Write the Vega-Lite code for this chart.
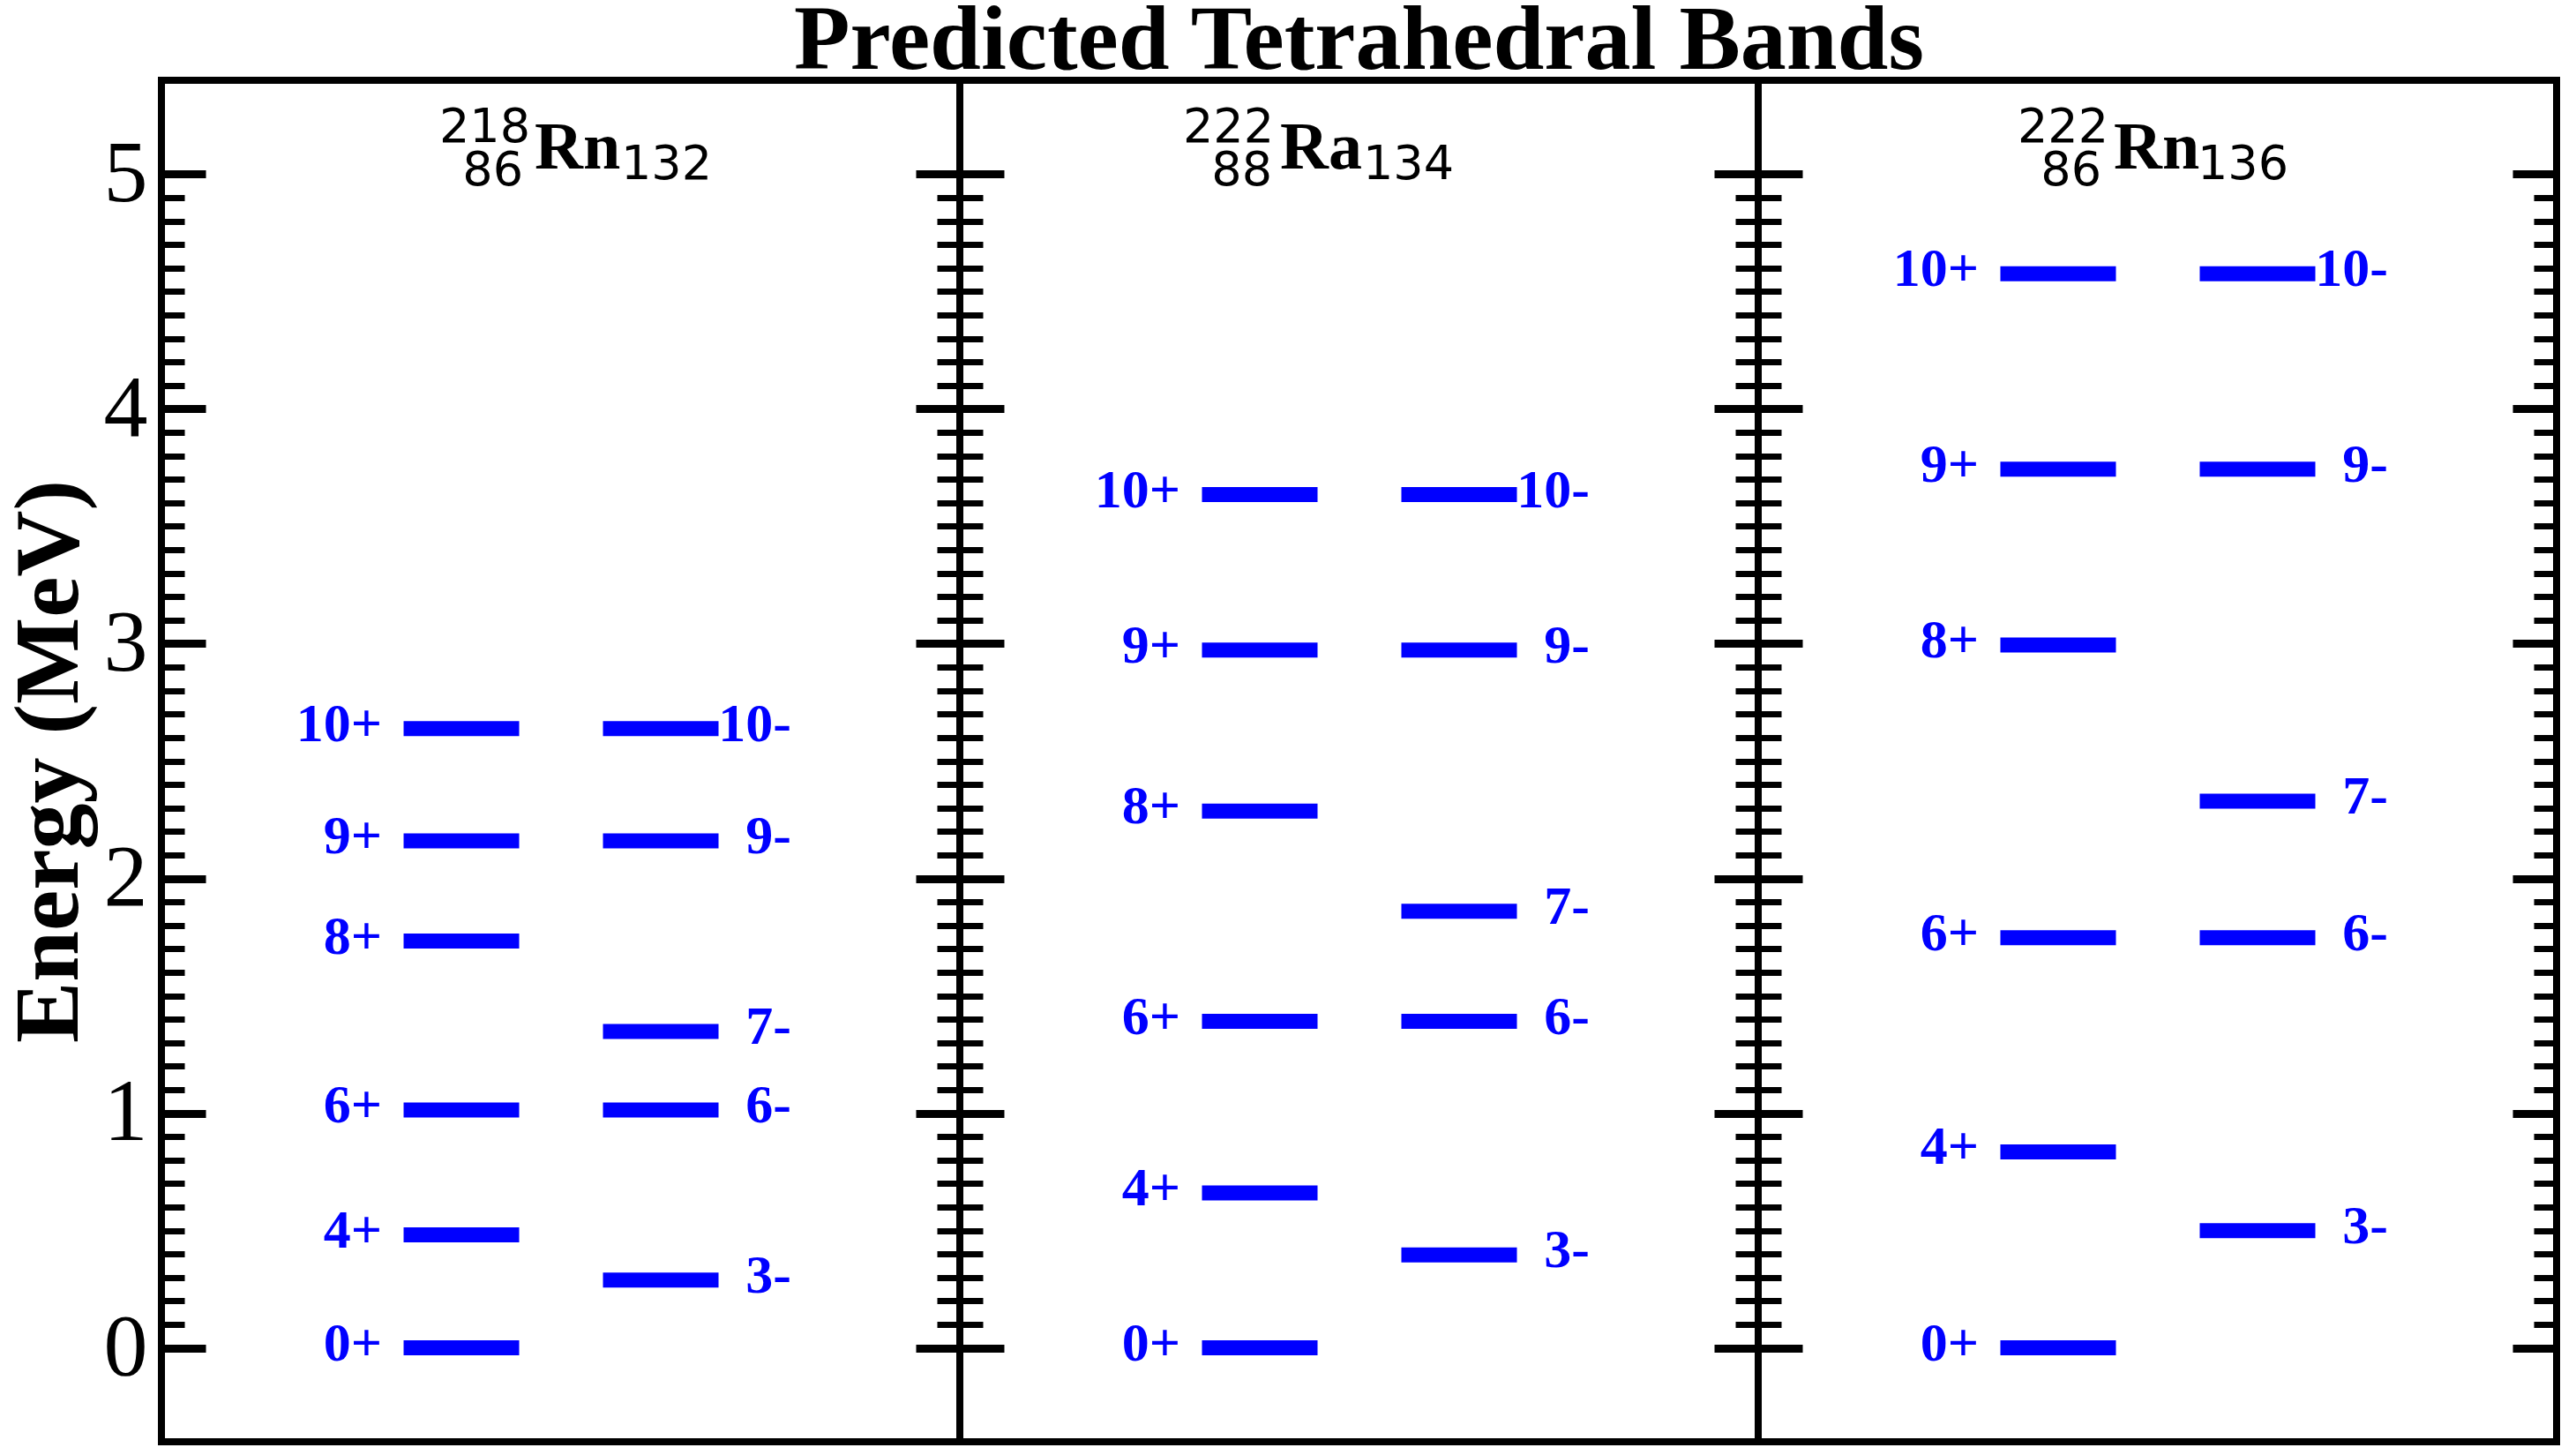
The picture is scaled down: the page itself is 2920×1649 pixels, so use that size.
{
  "$schema": "https://vega.github.io/schema/vega-lite/v6.json",
  "background": "white",
  "padding": {"left": 0, "top": -9, "right": 10, "bottom": 10},
  "spacing": 0,
  "bounds": "flush",
  "datasets": {
    "levels": [
      {"nuc": "218Rn", "parity": "+", "label": "0+", "E": 0},
      {"nuc": "218Rn", "parity": "+", "label": "4+", "E": 0.481},
      {"nuc": "218Rn", "parity": "+", "label": "6+", "E": 1.013},
      {"nuc": "218Rn", "parity": "+", "label": "8+", "E": 1.733},
      {"nuc": "218Rn", "parity": "+", "label": "9+", "E": 2.160},
      {"nuc": "218Rn", "parity": "+", "label": "10+", "E": 2.638},
      {"nuc": "218Rn", "parity": "-", "label": "3-", "E": 0.289},
      {"nuc": "218Rn", "parity": "-", "label": "6-", "E": 1.013},
      {"nuc": "218Rn", "parity": "-", "label": "7-", "E": 1.348},
      {"nuc": "218Rn", "parity": "-", "label": "9-", "E": 2.160},
      {"nuc": "218Rn", "parity": "-", "label": "10-", "E": 2.638},
      {"nuc": "222Ra", "parity": "+", "label": "0+", "E": 0},
      {"nuc": "222Ra", "parity": "+", "label": "4+", "E": 0.660},
      {"nuc": "222Ra", "parity": "+", "label": "6+", "E": 1.391},
      {"nuc": "222Ra", "parity": "+", "label": "8+", "E": 2.287},
      {"nuc": "222Ra", "parity": "+", "label": "9+", "E": 2.973},
      {"nuc": "222Ra", "parity": "+", "label": "10+", "E": 3.635},
      {"nuc": "222Ra", "parity": "-", "label": "3-", "E": 0.396},
      {"nuc": "222Ra", "parity": "-", "label": "6-", "E": 1.391},
      {"nuc": "222Ra", "parity": "-", "label": "7-", "E": 1.860},
      {"nuc": "222Ra", "parity": "-", "label": "9-", "E": 2.973},
      {"nuc": "222Ra", "parity": "-", "label": "10-", "E": 3.635},
      {"nuc": "222Rn", "parity": "+", "label": "0+", "E": 0},
      {"nuc": "222Rn", "parity": "+", "label": "4+", "E": 0.835},
      {"nuc": "222Rn", "parity": "+", "label": "6+", "E": 1.747},
      {"nuc": "222Rn", "parity": "+", "label": "8+", "E": 2.994},
      {"nuc": "222Rn", "parity": "+", "label": "9+", "E": 3.743},
      {"nuc": "222Rn", "parity": "+", "label": "10+", "E": 4.576},
      {"nuc": "222Rn", "parity": "-", "label": "3-", "E": 0.499},
      {"nuc": "222Rn", "parity": "-", "label": "6-", "E": 1.747},
      {"nuc": "222Rn", "parity": "-", "label": "7-", "E": 2.329},
      {"nuc": "222Rn", "parity": "-", "label": "9-", "E": 3.743},
      {"nuc": "222Rn", "parity": "-", "label": "10-", "E": 4.576}
    ],
    "nuclei": [
      {"nuc": "218Rn", "A": "218", "Z": "86", "sym": "Rn", "N": "132"},
      {"nuc": "222Ra", "A": "222", "Z": "88", "sym": "Ra", "N": "134"},
      {"nuc": "222Rn", "A": "222", "Z": "86", "sym": "Rn", "N": "136"}
    ]
  },
  "hconcat": [
    {
      "width": 905, "height": 1543,
      "resolve": {"axis": {"y": "independent"}},
      "layer": [
        {
          "data": {"name": "levels"},
          "transform": [{"filter": "datum.nuc === '218Rn'"}],
          "mark": {"type": "tick", "color": "#0000ff", "opacity": 1, "size": 131, "thickness": 17},
          "encoding": {
            "x": {"field": "parity", "type": "nominal", "scale": {"type": "point", "domain": ["+", "-"], "range": [340, 566], "padding": 0}, "axis": null},
            "y": {"field": "E", "type": "quantitative", "scale": {"domain": [-0.4, 5.4], "nice": false, "zero": false},
                  "axis": {"orient": "left", "values": [0, 1, 2, 3, 4, 5], "tickSize": -50, "tickWidth": 9, "tickColor": "black", "labels": false, "domain": false, "grid": false, "title": null}}
          }
        },
        {
          "data": {"name": "levels"},
          "transform": [{"filter": "datum.nuc === '218Rn' && datum.parity === '+'"}],
          "mark": {"type": "text", "font": "Liberation Serif", "fontWeight": "bold", "fontSize": 62, "color": "#0000ff", "align": "right", "baseline": "alphabetic", "dx": -90, "dy": 14},
          "encoding": {
            "x": {"field": "parity", "type": "nominal", "axis": null},
            "y": {"field": "E", "type": "quantitative",
                  "axis": {"orient": "left", "values": [0.1,0.2,0.3,0.4,0.5,0.6,0.7,0.8,0.9,1.1,1.2,1.3,1.4,1.5,1.6,1.7,1.8,1.9,2.1,2.2,2.3,2.4,2.5,2.6,2.7,2.8,2.9,3.1,3.2,3.3,3.4,3.5,3.6,3.7,3.8,3.9,4.1,4.2,4.3,4.4,4.5,4.6,4.7,4.8,4.9], "tickSize": -26, "tickWidth": 7, "tickColor": "black", "labels": false, "domain": false, "grid": false, "title": null}},
            "text": {"field": "label"}
          }
        },
        {
          "data": {"name": "levels"},
          "transform": [{"filter": "datum.nuc === '218Rn' && datum.parity === '-'"}],
          "mark": {"type": "text", "font": "Liberation Serif", "fontWeight": "bold", "fontSize": 62, "color": "#0000ff", "align": "right", "baseline": "alphabetic", "dx": 148, "dy": 14},
          "encoding": {
            "x": {"field": "parity", "type": "nominal", "axis": null},
            "y": {"field": "E", "type": "quantitative",
                  "axis": {"orient": "right", "values": [0, 1, 2, 3, 4, 5], "tickSize": -50, "tickWidth": 9, "tickColor": "black", "labels": false, "domain": false, "grid": false, "title": null}},
            "text": {"field": "label"}
          }
        },
        {
          "data": {"name": "nuclei"},
          "transform": [{"filter": "datum.nuc === '218Rn'"}],
          "mark": {"type": "text", "font": "DejaVu Sans", "fontSize": 54, "color": "black", "align": "right", "baseline": "alphabetic", "dx": 78, "dy": -36},
          "encoding": {
            "x": {"datum": "+", "type": "nominal", "axis": null},
            "y": {"datum": 5, "type": "quantitative",
                  "axis": {"orient": "right", "values": [0.1,0.2,0.3,0.4,0.5,0.6,0.7,0.8,0.9,1.1,1.2,1.3,1.4,1.5,1.6,1.7,1.8,1.9,2.1,2.2,2.3,2.4,2.5,2.6,2.7,2.8,2.9,3.1,3.2,3.3,3.4,3.5,3.6,3.7,3.8,3.9,4.1,4.2,4.3,4.4,4.5,4.6,4.7,4.8,4.9], "tickSize": -26, "tickWidth": 7, "tickColor": "black", "labels": false, "domain": false, "grid": false, "title": null}},
            "text": {"field": "A"}
          }
        },
        {
          "data": {"name": "nuclei"},
          "transform": [{"filter": "datum.nuc === '218Rn'"}],
          "mark": {"type": "text", "font": "DejaVu Sans", "fontSize": 54, "color": "black", "align": "right", "baseline": "alphabetic", "dx": 70, "dy": 13},
          "encoding": {
            "x": {"datum": "+", "type": "nominal", "axis": null},
            "y": {"datum": 5, "type": "quantitative",
                  "axis": {"orient": "left", "values": [0, 1, 2, 3, 4, 5], "ticks": false, "labels": true, "labelFont": "Liberation Serif", "labelFontSize": 100, "labelColor": "black", "labelPadding": 16, "domain": false, "grid": false,
                           "title": "Energy (MeV)", "titleFont": "Liberation Serif", "titleFontSize": 104, "titleFontWeight": "bold", "titleColor": "black", "titlePadding": 8}},
            "text": {"field": "Z"}
          }
        },
        {
          "data": {"name": "nuclei"},
          "transform": [{"filter": "datum.nuc === '218Rn'"}],
          "mark": {"type": "text", "font": "Liberation Serif", "fontWeight": "bold", "fontSize": 76, "color": "black", "align": "left", "baseline": "alphabetic", "dx": 83, "dy": -6},
          "encoding": {
            "x": {"datum": "+", "type": "nominal", "axis": null},
            "y": {"datum": 5, "type": "quantitative", "axis": null},
            "text": {"field": "sym"}
          }
        },
        {
          "data": {"name": "nuclei"},
          "transform": [{"filter": "datum.nuc === '218Rn'"}],
          "mark": {"type": "text", "font": "DejaVu Sans", "fontSize": 54, "color": "black", "align": "left", "baseline": "alphabetic", "dx": 181, "dy": 6},
          "encoding": {
            "x": {"datum": "+", "type": "nominal", "axis": null},
            "y": {"datum": 5, "type": "quantitative", "axis": null},
            "text": {"field": "N"}
          }
        }
      ]
    },
    {
      "width": 905, "height": 1543,
      "title": {"text": "Predicted Tetrahedral Bands", "font": "Liberation Serif", "fontSize": 104, "fontWeight": "bold", "color": "black", "anchor": "middle", "frame": "group", "baseline": "alphabetic", "offset": -91},
      "resolve": {"axis": {"y": "independent"}},
      "layer": [
        {
          "data": {"name": "levels"},
          "transform": [{"filter": "datum.nuc === '222Ra'"}],
          "mark": {"type": "tick", "color": "#0000ff", "opacity": 1, "size": 131, "thickness": 17},
          "encoding": {
            "x": {"field": "parity", "type": "nominal", "scale": {"type": "point", "domain": ["+", "-"], "range": [340, 566], "padding": 0}, "axis": null},
            "y": {"field": "E", "type": "quantitative", "scale": {"domain": [-0.4, 5.4], "nice": false, "zero": false},
                  "axis": {"orient": "left", "values": [0, 1, 2, 3, 4, 5], "tickSize": -50, "tickWidth": 9, "tickColor": "black", "labels": false, "domain": false, "grid": false, "title": null}}
          }
        },
        {
          "data": {"name": "levels"},
          "transform": [{"filter": "datum.nuc === '222Ra' && datum.parity === '+'"}],
          "mark": {"type": "text", "font": "Liberation Serif", "fontWeight": "bold", "fontSize": 62, "color": "#0000ff", "align": "right", "baseline": "alphabetic", "dx": -90, "dy": 14},
          "encoding": {
            "x": {"field": "parity", "type": "nominal", "axis": null},
            "y": {"field": "E", "type": "quantitative",
                  "axis": {"orient": "left", "values": [0.1,0.2,0.3,0.4,0.5,0.6,0.7,0.8,0.9,1.1,1.2,1.3,1.4,1.5,1.6,1.7,1.8,1.9,2.1,2.2,2.3,2.4,2.5,2.6,2.7,2.8,2.9,3.1,3.2,3.3,3.4,3.5,3.6,3.7,3.8,3.9,4.1,4.2,4.3,4.4,4.5,4.6,4.7,4.8,4.9], "tickSize": -26, "tickWidth": 7, "tickColor": "black", "labels": false, "domain": false, "grid": false, "title": null}},
            "text": {"field": "label"}
          }
        },
        {
          "data": {"name": "levels"},
          "transform": [{"filter": "datum.nuc === '222Ra' && datum.parity === '-'"}],
          "mark": {"type": "text", "font": "Liberation Serif", "fontWeight": "bold", "fontSize": 62, "color": "#0000ff", "align": "right", "baseline": "alphabetic", "dx": 148, "dy": 14},
          "encoding": {
            "x": {"field": "parity", "type": "nominal", "axis": null},
            "y": {"field": "E", "type": "quantitative",
                  "axis": {"orient": "right", "values": [0, 1, 2, 3, 4, 5], "tickSize": -50, "tickWidth": 9, "tickColor": "black", "labels": false, "domain": false, "grid": false, "title": null}},
            "text": {"field": "label"}
          }
        },
        {
          "data": {"name": "nuclei"},
          "transform": [{"filter": "datum.nuc === '222Ra'"}],
          "mark": {"type": "text", "font": "DejaVu Sans", "fontSize": 54, "color": "black", "align": "right", "baseline": "alphabetic", "dx": 16, "dy": -36},
          "encoding": {
            "x": {"datum": "+", "type": "nominal", "axis": null},
            "y": {"datum": 5, "type": "quantitative",
                  "axis": {"orient": "right", "values": [0.1,0.2,0.3,0.4,0.5,0.6,0.7,0.8,0.9,1.1,1.2,1.3,1.4,1.5,1.6,1.7,1.8,1.9,2.1,2.2,2.3,2.4,2.5,2.6,2.7,2.8,2.9,3.1,3.2,3.3,3.4,3.5,3.6,3.7,3.8,3.9,4.1,4.2,4.3,4.4,4.5,4.6,4.7,4.8,4.9], "tickSize": -26, "tickWidth": 7, "tickColor": "black", "labels": false, "domain": false, "grid": false, "title": null}},
            "text": {"field": "A"}
          }
        },
        {
          "data": {"name": "nuclei"},
          "transform": [{"filter": "datum.nuc === '222Ra'"}],
          "mark": {"type": "text", "font": "DejaVu Sans", "fontSize": 54, "color": "black", "align": "right", "baseline": "alphabetic", "dx": 14, "dy": 13},
          "encoding": {
            "x": {"datum": "+", "type": "nominal", "axis": null},
            "y": {"datum": 5, "type": "quantitative", "axis": null},
            "text": {"field": "Z"}
          }
        },
        {
          "data": {"name": "nuclei"},
          "transform": [{"filter": "datum.nuc === '222Ra'"}],
          "mark": {"type": "text", "font": "Liberation Serif", "fontWeight": "bold", "fontSize": 76, "color": "black", "align": "left", "baseline": "alphabetic", "dx": 23, "dy": -6},
          "encoding": {
            "x": {"datum": "+", "type": "nominal", "axis": null},
            "y": {"datum": 5, "type": "quantitative", "axis": null},
            "text": {"field": "sym"}
          }
        },
        {
          "data": {"name": "nuclei"},
          "transform": [{"filter": "datum.nuc === '222Ra'"}],
          "mark": {"type": "text", "font": "DejaVu Sans", "fontSize": 54, "color": "black", "align": "left", "baseline": "alphabetic", "dx": 117, "dy": 6},
          "encoding": {
            "x": {"datum": "+", "type": "nominal", "axis": null},
            "y": {"datum": 5, "type": "quantitative", "axis": null},
            "text": {"field": "N"}
          }
        }
      ]
    },
    {
      "width": 905, "height": 1543,
      "resolve": {"axis": {"y": "independent"}},
      "layer": [
        {
          "data": {"name": "levels"},
          "transform": [{"filter": "datum.nuc === '222Rn'"}],
          "mark": {"type": "tick", "color": "#0000ff", "opacity": 1, "size": 131, "thickness": 17},
          "encoding": {
            "x": {"field": "parity", "type": "nominal", "scale": {"type": "point", "domain": ["+", "-"], "range": [340, 566], "padding": 0}, "axis": null},
            "y": {"field": "E", "type": "quantitative", "scale": {"domain": [-0.4, 5.4], "nice": false, "zero": false},
                  "axis": {"orient": "left", "values": [0, 1, 2, 3, 4, 5], "tickSize": -50, "tickWidth": 9, "tickColor": "black", "labels": false, "domain": false, "grid": false, "title": null}}
          }
        },
        {
          "data": {"name": "levels"},
          "transform": [{"filter": "datum.nuc === '222Rn' && datum.parity === '+'"}],
          "mark": {"type": "text", "font": "Liberation Serif", "fontWeight": "bold", "fontSize": 62, "color": "#0000ff", "align": "right", "baseline": "alphabetic", "dx": -90, "dy": 14},
          "encoding": {
            "x": {"field": "parity", "type": "nominal", "axis": null},
            "y": {"field": "E", "type": "quantitative",
                  "axis": {"orient": "left", "values": [0.1,0.2,0.3,0.4,0.5,0.6,0.7,0.8,0.9,1.1,1.2,1.3,1.4,1.5,1.6,1.7,1.8,1.9,2.1,2.2,2.3,2.4,2.5,2.6,2.7,2.8,2.9,3.1,3.2,3.3,3.4,3.5,3.6,3.7,3.8,3.9,4.1,4.2,4.3,4.4,4.5,4.6,4.7,4.8,4.9], "tickSize": -26, "tickWidth": 7, "tickColor": "black", "labels": false, "domain": false, "grid": false, "title": null}},
            "text": {"field": "label"}
          }
        },
        {
          "data": {"name": "levels"},
          "transform": [{"filter": "datum.nuc === '222Rn' && datum.parity === '-'"}],
          "mark": {"type": "text", "font": "Liberation Serif", "fontWeight": "bold", "fontSize": 62, "color": "#0000ff", "align": "right", "baseline": "alphabetic", "dx": 148, "dy": 14},
          "encoding": {
            "x": {"field": "parity", "type": "nominal", "axis": null},
            "y": {"field": "E", "type": "quantitative",
                  "axis": {"orient": "right", "values": [0, 1, 2, 3, 4, 5], "tickSize": -50, "tickWidth": 9, "tickColor": "black", "labels": false, "domain": false, "grid": false, "title": null}},
            "text": {"field": "label"}
          }
        },
        {
          "data": {"name": "nuclei"},
          "transform": [{"filter": "datum.nuc === '222Rn'"}],
          "mark": {"type": "text", "font": "DejaVu Sans", "fontSize": 54, "color": "black", "align": "right", "baseline": "alphabetic", "dx": 57, "dy": -36},
          "encoding": {
            "x": {"datum": "+", "type": "nominal", "axis": null},
            "y": {"datum": 5, "type": "quantitative",
                  "axis": {"orient": "right", "values": [0.1,0.2,0.3,0.4,0.5,0.6,0.7,0.8,0.9,1.1,1.2,1.3,1.4,1.5,1.6,1.7,1.8,1.9,2.1,2.2,2.3,2.4,2.5,2.6,2.7,2.8,2.9,3.1,3.2,3.3,3.4,3.5,3.6,3.7,3.8,3.9,4.1,4.2,4.3,4.4,4.5,4.6,4.7,4.8,4.9], "tickSize": -26, "tickWidth": 7, "tickColor": "black", "labels": false, "domain": false, "grid": false, "title": null}},
            "text": {"field": "A"}
          }
        },
        {
          "data": {"name": "nuclei"},
          "transform": [{"filter": "datum.nuc === '222Rn'"}],
          "mark": {"type": "text", "font": "DejaVu Sans", "fontSize": 54, "color": "black", "align": "right", "baseline": "alphabetic", "dx": 49, "dy": 13},
          "encoding": {
            "x": {"datum": "+", "type": "nominal", "axis": null},
            "y": {"datum": 5, "type": "quantitative", "axis": null},
            "text": {"field": "Z"}
          }
        },
        {
          "data": {"name": "nuclei"},
          "transform": [{"filter": "datum.nuc === '222Rn'"}],
          "mark": {"type": "text", "font": "Liberation Serif", "fontWeight": "bold", "fontSize": 76, "color": "black", "align": "left", "baseline": "alphabetic", "dx": 63, "dy": -6},
          "encoding": {
            "x": {"datum": "+", "type": "nominal", "axis": null},
            "y": {"datum": 5, "type": "quantitative", "axis": null},
            "text": {"field": "sym"}
          }
        },
        {
          "data": {"name": "nuclei"},
          "transform": [{"filter": "datum.nuc === '222Rn'"}],
          "mark": {"type": "text", "font": "DejaVu Sans", "fontSize": 54, "color": "black", "align": "left", "baseline": "alphabetic", "dx": 158, "dy": 6},
          "encoding": {
            "x": {"datum": "+", "type": "nominal", "axis": null},
            "y": {"datum": 5, "type": "quantitative", "axis": null},
            "text": {"field": "N"}
          }
        }
      ]
    }
  ],
  "config": {
    "view": {"stroke": "black", "strokeWidth": 8},
    "axis": {"grid": false, "domain": false}
  }
}
